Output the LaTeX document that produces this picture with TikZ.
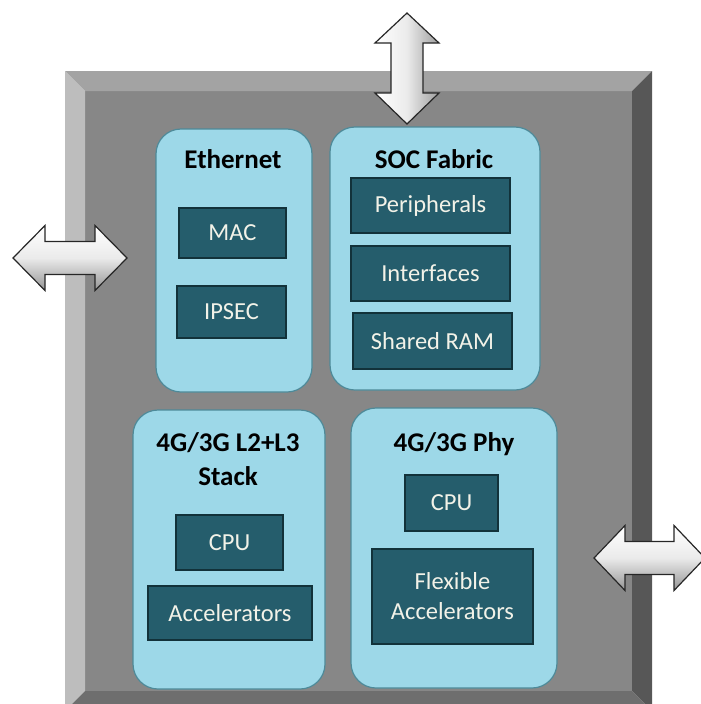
\documentclass[tikz,border=0pt]{standalone}
\usepackage{fontspec}
\setmainfont{Carlito}
\usepackage{tikz}
\usetikzlibrary{calc}
\definecolor{soc_blue}{RGB}{157, 216, 232}
\definecolor{soc_blueedge}{RGB}{78, 138, 153}
\definecolor{soc_teal}{RGB}{37, 93, 108}
\definecolor{soc_tealedge}{RGB}{18, 50, 58}
\definecolor{soc_text}{RGB}{242, 242, 232}
\tikzstyle{bb}=[rectangle,rounded corners=25pt,fill=soc_blue,draw=soc_blueedge,
  line width=1.2pt,inner sep=0pt]
\tikzstyle{db}=[rectangle,fill=soc_teal,draw=soc_tealedge,line width=1.5pt,
  inner sep=0pt,text=soc_text,align=center,font=\fontsize{24.5}{30}\selectfont]
\tikzstyle{tl}=[anchor=base,inner sep=0pt,font=\fontsize{27}{34}\selectfont\bfseries]
\tikzstyle{ar}=[draw=black!85,line width=1.2pt,line join=miter]
\tikzstyle{none}=[]

\begin{document}
\begin{tikzpicture}[x=1pt, y=-1pt]
            \useasboundingbox (0, 0) rectangle (701, 704);
            \clip (0, 0) rectangle (701, 704);
            % chip frame
            \fill [black!47] (85, 91) rectangle (632, 691);
            \fill [black!36] (65, 71) -- (652, 71) -- (632, 91) -- (85, 91) -- cycle;
            \fill [black!26] (65, 71) -- (85, 91) -- (85, 691) -- (65, 711) -- cycle;
            \fill [black!66] (652, 71) -- (652, 711) -- (632, 691) -- (632, 91) -- cycle;
            \fill [black!57] (65, 711) -- (85, 691) -- (632, 691) -- (652, 711) -- cycle;
            % blocks
            \node [style=bb, minimum width=156pt, minimum height=263pt] (0) at (234, 260.5) {};
            \node [style=bb, minimum width=210pt, minimum height=263pt] (1) at (435, 258.5) {};
            \node [style=bb, minimum width=192pt, minimum height=279pt] (2) at (229, 549.5) {};
            \node [style=bb, minimum width=206pt, minimum height=280pt] (3) at (454, 548) {};
            \node [style=tl] (4) at (233, 168) {Ethernet};
            \node [style=tl] (5) at (434, 168) {SOC Fabric};
            \node [style=tl] (6) at (228, 451) {4G/3G L2+L3};
            \node [style=tl] (7) at (228, 485) {Stack};
            \node [style=tl] (8) at (454, 451) {4G/3G Phy};
            \node [style=db, minimum width=107pt, minimum height=50pt] (9) at (232.5, 233) {MAC};
            \node [style=db, minimum width=109pt, minimum height=52pt] (10) at (231.5, 312) {IPSEC};
            \node [style=db, minimum width=159pt, minimum height=55pt] (11) at (430.5, 205.5) {Peripherals};
            \node [style=db, minimum width=159pt, minimum height=55pt] (12) at (430.5, 273.5) {Interfaces};
            \node [style=db, minimum width=159pt, minimum height=56pt] (13) at (432.5, 341) {Shared RAM};
            \node [style=db, minimum width=107pt, minimum height=55pt] (14) at (229.5, 542.5) {CPU};
            \node [style=db, minimum width=164pt, minimum height=54pt] (15) at (230, 613) {Accelerators};
            \node [style=db, minimum width=93pt, minimum height=56pt] (16) at (451.5, 503) {CPU};
            \node [style=db, minimum width=161pt, minimum height=95pt] (17) at (452.5, 596.5) {Flexible\\Accelerators};
            % external links
            \draw [style=ar, left color=white, right color=black!38, middle color=white!92!black]
                (407, 13) -- (439, 43) -- (423, 43) -- (423, 93) -- (439, 93) -- (407, 124)
                -- (375, 93) -- (391, 93) -- (391, 43) -- (375, 43) -- cycle;
            \draw [style=ar, top color=white, bottom color=black!42, middle color=white!92!black]
                (13, 258) -- (45, 225.5) -- (45, 241.5) -- (95, 241.5) -- (95, 225.5) -- (127, 258)
                -- (95, 290.5) -- (95, 274.5) -- (45, 274.5) -- (45, 290.5) -- cycle;
            \draw [style=ar, top color=white, bottom color=black!42, middle color=white!92!black]
                (594, 558) -- (625, 525.5) -- (625, 541.5) -- (674, 541.5) -- (674, 525.5) -- (705, 558)
                -- (674, 590.5) -- (674, 574.5) -- (625, 574.5) -- (625, 590.5) -- cycle;
    \end{tikzpicture}
\end{document}
